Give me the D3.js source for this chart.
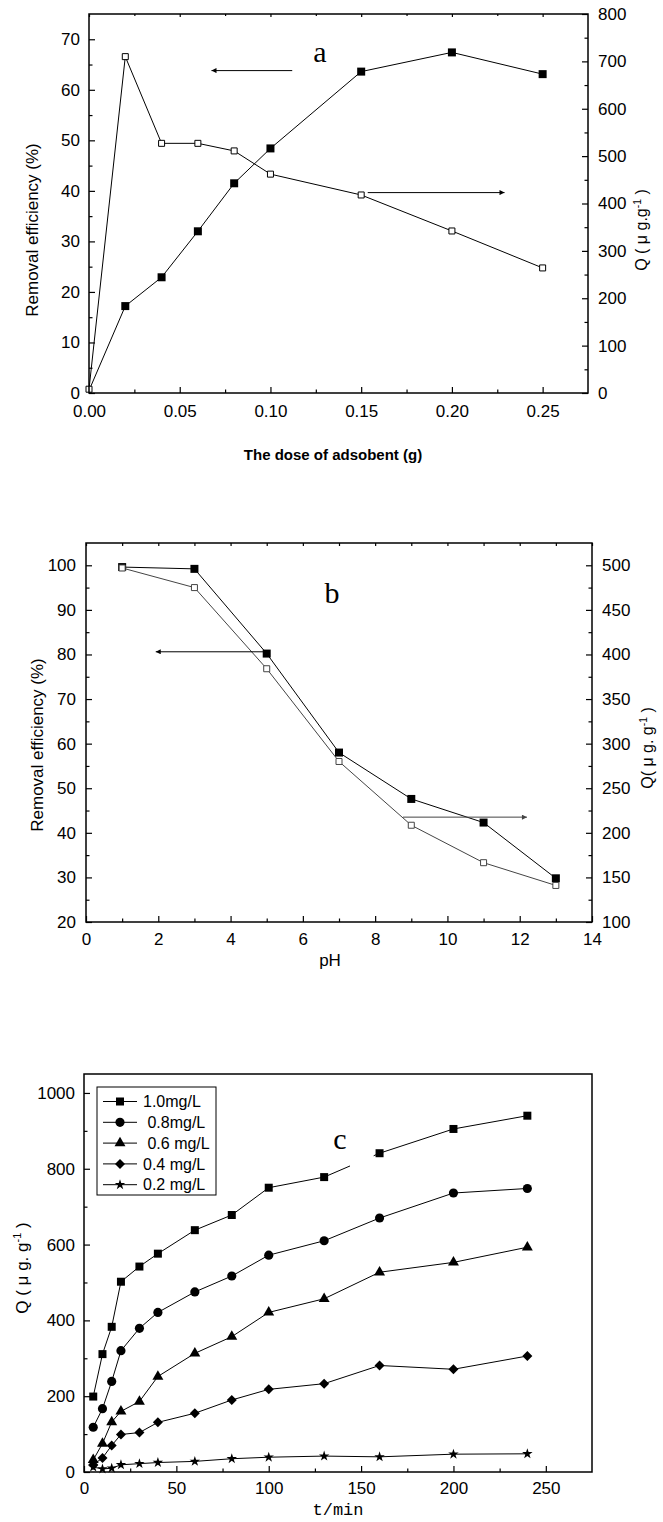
<!DOCTYPE html>
<html><head><meta charset="utf-8">
<script src="https://cdn.jsdelivr.net/npm/d3@7"></script>
<style>
body{margin:0;background:#fff}
svg{display:block}
text{font-family:"Liberation Sans",Arial,sans-serif;fill:#000}
</style>
</head><body>
<svg id="chart" width="663" height="1522"></svg>
<script>
// ---------- DATA ----------
// Panel a
const doseA = [0, 0.02, 0.04, 0.06, 0.08, 0.10, 0.15, 0.20, 0.25];
const removalA = [0.5, 17.2, 22.9, 32.0, 41.5, 48.4, 63.6, 67.4, 63.1];
const qA = [8, 710, 527, 527, 511, 462, 418, 342, 264];
// Panel b
const phB = [1, 3, 5, 7, 9, 11, 13];
const removalB = [99.6, 99.2, 80.2, 58.0, 47.6, 42.3, 29.8];
const qB = [497, 475, 384, 280, 208.5, 166.5, 141];
// Panel c
const timeC = [5, 10, 15, 20, 30, 40, 60, 80, 100, 130, 160, 200, 240];
const q10 = [199, 311, 383, 502, 542, 576, 638, 678, 750, 778, 841, 905, 940];
const q08 = [118, 167, 239, 320, 379, 421, 475, 517, 572, 610, 670, 736, 748];
const q06 = [32, 75, 132, 160, 186, 252, 313, 357, 421, 457, 527, 553, 593];
const q04 = [19, 37, 70, 99, 104, 131, 155, 190, 218, 233, 281, 271, 306];
const q02 = [13, 8, 10, 19, 22, 25, 28, 35, 39, 42, 40, 47, 48];
const seriesNamesC = ["1.0mg/L", " 0.8mg/L", " 0.6 mg/L", "0.4 mg/L", "0.2 mg/L"];

// Tick values
const ticksAx = [0, 0.05, 0.10, 0.15, 0.20, 0.25];
const minorAx = [0.025, 0.075, 0.125, 0.175, 0.225];
const ticksAyL = [0, 10, 20, 30, 40, 50, 60, 70];
const minorAyL = [5, 15, 25, 35, 45, 55, 65];
const ticksAyR = [0, 100, 200, 300, 400, 500, 600, 700, 800];
const minorAyR = [50, 150, 250, 350, 450, 550, 650, 750];

const ticksBx = [0, 2, 4, 6, 8, 10, 12, 14];
const minorBx = [1, 3, 5, 7, 9, 11, 13];
const ticksByL = [20, 30, 40, 50, 60, 70, 80, 90, 100];
const minorByL = [25, 35, 45, 55, 65, 75, 85, 95];
const ticksByR = [100, 150, 200, 250, 300, 350, 400, 450, 500];
const minorByR = [125, 175, 225, 275, 325, 375, 425, 475];

const ticksCx = [0, 50, 100, 150, 200, 250];
const minorCx = [25, 75, 125, 175, 225];
const ticksCy = [0, 200, 400, 600, 800, 1000];
const minorCy = [100, 300, 500, 700, 900];

// ---------- DRAW ----------
const svg = d3.select("#chart");
svg.append("rect").attr("width", 663).attr("height", 1522).attr("fill", "#fff");

const defs = svg.append("defs");
function arrowMarker(id, color) {
  defs.append("marker").attr("id", id)
    .attr("viewBox", "0 0 10 10").attr("refX", 10).attr("refY", 5)
    .attr("markerUnits", "userSpaceOnUse")
    .attr("markerWidth", 11).attr("markerHeight", 5).attr("orient", "auto")
    .append("path").attr("d", "M0,0L10,5L0,10Z").attr("fill", color);
}
arrowMarker("arrK", "#000");
arrowMarker("arrG", "#444");

const FS = 17;
const intFmt = d3.format("d");
function axis(g, gen, vals, size, fmt, pad, transform, labels) {
  const a = gen.tickValues(vals).tickSize(-size).tickPadding(pad);
  if (!labels) a.tickFormat(""); else a.tickFormat(fmt || intFmt);
  const ag = g.append("g").attr("transform", transform).call(a);
  ag.select(".domain").remove();
  ag.attr("font-size", FS).attr("font-family", '"Liberation Sans",Arial,sans-serif');
  ag.selectAll(".tick line").attr("stroke", "#000").attr("stroke-width", 1.2);
  return ag;
}

function frame(g, L, R, T, B) {
  g.append("rect").attr("x", L).attr("y", T).attr("width", R - L).attr("height", B - T)
    .attr("fill", "none").attr("stroke", "#000").attr("stroke-width", 1.5);
}

function yLabel(g, x, y, parts, size) {
  const t = g.append("text").attr("transform", `translate(${x},${y}) rotate(-90)`)
    .attr("text-anchor", "middle").attr("font-size", size).attr("xml:space", "preserve");
  parts.forEach(p => {
    const s = t.append("tspan").text(p.t);
    if (p.sup) s.attr("font-size", size * 0.65).attr("dy", -size * 0.4);
    if (p.down) s.attr("dy", size * 0.4);
  });
  return t;
}

const sq = (s) => d3.symbol().type(d3.symbolSquare).size(s)();

// ===== Panel a =====
{
  const L = 89, R = 588, T = 14, B = 393;
  const g = svg.append("g");
  const x = d3.scaleLinear().domain([0, 0.275]).range([L, R]);
  const yL = d3.scaleLinear().domain([0, 75]).range([B, T]);
  const yR = d3.scaleLinear().domain([0, 800]).range([B, T]);

  axis(g, d3.axisLeft(yL), ticksAyL, 6, null, 9, `translate(${L},0)`, true);
  axis(g, d3.axisLeft(yL), minorAyL, 3.5, null, 9, `translate(${L},0)`, false);
  axis(g, d3.axisRight(yR), ticksAyR, 6, null, 10, `translate(${R},0)`, true);
  axis(g, d3.axisRight(yR), minorAyR, 3.5, null, 10, `translate(${R},0)`, false);
  axis(g, d3.axisBottom(x), ticksAx, 6, d3.format(".2f"), 12, `translate(0,${B})`, true);
  axis(g, d3.axisBottom(x), minorAx, 3.5, null, 12, `translate(0,${B})`, false);
  axis(g, d3.axisTop(x), ticksAx, 3, null, 5, `translate(0,${T})`, false);
  axis(g, d3.axisTop(x), minorAx, 2, null, 5, `translate(0,${T})`, false);

  const ptsL = doseA.map((d, i) => [x(d), yL(removalA[i])]);
  const ptsR = doseA.map((d, i) => [x(d), yR(qA[i])]);
  g.append("path").attr("d", d3.line()(ptsL)).attr("fill", "none").attr("stroke", "#000").attr("stroke-width", 1);
  g.append("path").attr("d", d3.line()(ptsR)).attr("fill", "none").attr("stroke", "#000").attr("stroke-width", 1);
  g.selectAll(".fa").data(ptsL.slice(1)).join("path").attr("d", sq(64))
    .attr("transform", d => `translate(${d[0]},${d[1]})`).attr("fill", "#000");
  g.selectAll(".oa").data(ptsR).join("path").attr("d", sq(36))
    .attr("transform", d => `translate(${d[0]},${d[1]})`).attr("fill", "#fff").attr("stroke", "#000").attr("stroke-width", 1);

  // arrows
  g.append("line").attr("x1", x(0.112)).attr("x2", x(0.0675)).attr("y1", yL(63.8)).attr("y2", yL(63.8))
    .attr("stroke", "#000").attr("stroke-width", 1).attr("marker-end", "url(#arrK)");
  g.append("line").attr("x1", x(0.1536)).attr("x2", x(0.229)).attr("y1", yR(423)).attr("y2", yR(423))
    .attr("stroke", "#000").attr("stroke-width", 1).attr("marker-end", "url(#arrK)");

  g.append("text").attr("x", 320).attr("y", 62).attr("text-anchor", "middle")
    .style("font-family", '"Liberation Serif",serif').attr("font-size", 30).text("a");

  frame(g, L, R, T, B);
  yLabel(g, 38, 230, [{t: "Removal efficiency (%)"}], 17);
  yLabel(g, 647, 230, [{t: "Q ( μ g.g"}, {t: "-1", sup: true}, {t: " )", down: true}], 16);
  g.append("text").attr("x", 333).attr("y", 460).attr("text-anchor", "middle")
    .attr("font-size", 15).attr("font-weight", "bold").text("The dose of adsobent (g)");
}

// ===== Panel b =====
{
  const L = 86, R = 592, T = 543, B = 922;
  const g = svg.append("g");
  const x = d3.scaleLinear().domain([0, 14]).range([L, R]);
  const yL = d3.scaleLinear().domain([20, 105]).range([B, T]);
  const yR = d3.scaleLinear().domain([100, 525]).range([B, T]);

  axis(g, d3.axisLeft(yL), ticksByL, 6, null, 10, `translate(${L},0)`, true);
  axis(g, d3.axisLeft(yL), minorByL, 3.5, null, 10, `translate(${L},0)`, false);
  axis(g, d3.axisRight(yR), ticksByR, 6, null, 10, `translate(${R},0)`, true);
  axis(g, d3.axisRight(yR), minorByR, 3.5, null, 10, `translate(${R},0)`, false);
  axis(g, d3.axisBottom(x), ticksBx, 6, null, 11, `translate(0,${B})`, true);
  axis(g, d3.axisBottom(x), minorBx, 3.5, null, 11, `translate(0,${B})`, false);
  axis(g, d3.axisTop(x), ticksBx, 3, null, 5, `translate(0,${T})`, false);
  axis(g, d3.axisTop(x), minorBx, 3, null, 5, `translate(0,${T})`, false);

  const ptsL = phB.map((d, i) => [x(d), yL(removalB[i])]);
  const ptsR = phB.map((d, i) => [x(d), yR(qB[i])]);
  g.append("path").attr("d", d3.line()(ptsR)).attr("fill", "none").attr("stroke", "#444").attr("stroke-width", 1);
  g.append("path").attr("d", d3.line()(ptsL)).attr("fill", "none").attr("stroke", "#000").attr("stroke-width", 1);
  g.selectAll(".fb").data(ptsL).join("path").attr("d", sq(64))
    .attr("transform", d => `translate(${d[0]},${d[1]})`).attr("fill", "#000");
  g.selectAll(".ob").data(ptsR).join("path").attr("d", sq(36))
    .attr("transform", d => `translate(${d[0]},${d[1]})`).attr("fill", "#fff").attr("stroke", "#444").attr("stroke-width", 1);

  g.append("line").attr("x1", x(5)).attr("x2", x(1.93)).attr("y1", yL(80.6)).attr("y2", yL(80.6))
    .attr("stroke", "#000").attr("stroke-width", 1).attr("marker-end", "url(#arrK)");
  g.append("line").attr("x1", x(8.77)).attr("x2", x(12.2)).attr("y1", yR(217.6)).attr("y2", yR(217.6))
    .attr("stroke", "#444").attr("stroke-width", 1).attr("marker-end", "url(#arrG)");

  g.append("text").attr("x", 332).attr("y", 603).attr("text-anchor", "middle")
    .style("font-family", '"Liberation Serif",serif').attr("font-size", 30).text("b");

  frame(g, L, R, T, B);
  yLabel(g, 43, 745, [{t: "Removal efficiency (%)"}], 17);
  yLabel(g, 653, 748, [{t: "Q( μ g. g"}, {t: "-1", sup: true}, {t: " )", down: true}], 16);
  g.append("text").attr("x", 330).attr("y", 966).attr("text-anchor", "middle").attr("font-size", FS).text("pH");
}

// ===== Panel c =====
{
  const L = 84, R = 592, T = 1074, B = 1472;
  const g = svg.append("g");
  const x = d3.scaleLinear().domain([0, 275]).range([L, R]);
  const y = d3.scaleLinear().domain([0, 1050]).range([B, T]);

  axis(g, d3.axisLeft(y), ticksCy, 6, null, 9, `translate(${L},0)`, true);
  axis(g, d3.axisLeft(y), minorCy, 3.5, null, 9, `translate(${L},0)`, false);
  axis(g, d3.axisBottom(x), ticksCx, 6, null, 10, `translate(0,${B})`, true);
  axis(g, d3.axisBottom(x), minorCx, 3.5, null, 10, `translate(0,${B})`, false);

  const shapes = [
    d3.symbol().type(d3.symbolSquare).size(64)(),
    d3.symbol().type(d3.symbolCircle).size(66)(),
    d3.symbol().type(d3.symbolTriangle).size(52)(),
    d3.symbol().type(d3.symbolSquare).size(50)(),
    d3.symbol().type(d3.symbolStar).size(34)()
  ];
  const rot = [0, 0, 0, 45, 0];
  const series = [q10, q08, q06, q04, q02];

  series.forEach((vals, si) => {
    const pts = timeC.map((t, i) => [x(t), y(vals[i])]);
    g.append("path").attr("d", d3.line()(pts)).attr("fill", "none").attr("stroke", "#000").attr("stroke-width", 1);
    if (si === 0) {
      // gap in the 1.0 mg/L line between 130 and 160 min
      g.append("rect").attr("x", x(144)).attr("width", x(156.8) - x(144))
        .attr("y", y(848)).attr("height", y(790) - y(848)).attr("fill", "#fff");
    }
    g.selectAll(".m" + si).data(pts).join("path").attr("d", shapes[si])
      .attr("transform", d => `translate(${d[0]},${d[1]}) rotate(${rot[si]})`).attr("fill", "#000");
  });

  // legend
  const lg = g.append("g");
  lg.append("rect").attr("x", 97).attr("y", 1087).attr("width", 119).attr("height", 108)
    .attr("fill", "#fff").attr("stroke", "#000").attr("stroke-width", 1);
  seriesNamesC.forEach((name, i) => {
    const yy = 1101.5 + i * 20.8;
    lg.append("line").attr("x1", 103).attr("x2", 137).attr("y1", yy).attr("y2", yy).attr("stroke", "#000").attr("stroke-width", 1);
    lg.append("path").attr("d", shapes[i]).attr("transform", `translate(120,${yy}) rotate(${rot[i]})`).attr("fill", "#000");
    lg.append("text").attr("x", 143).attr("y", yy).attr("dy", "0.36em").attr("font-size", 16)
      .attr("xml:space", "preserve").style("white-space", "pre").text(name);
  });

  g.append("text").attr("x", 340).attr("y", 1149).attr("text-anchor", "middle")
    .style("font-family", '"Liberation Serif",serif').attr("font-size", 30).text("c");

  frame(g, L, R, T, B);
  yLabel(g, 28, 1268, [{t: "Q ( μ g. g"}, {t: "-1", sup: true}, {t: " )", down: true}], 17);
  g.append("text").attr("x", 338).attr("y", 1515).attr("text-anchor", "middle")
    .style("font-family", '"Liberation Mono","DejaVu Sans Mono",monospace').attr("font-size", 17).text("t/min");
}
</script>
</body></html>
